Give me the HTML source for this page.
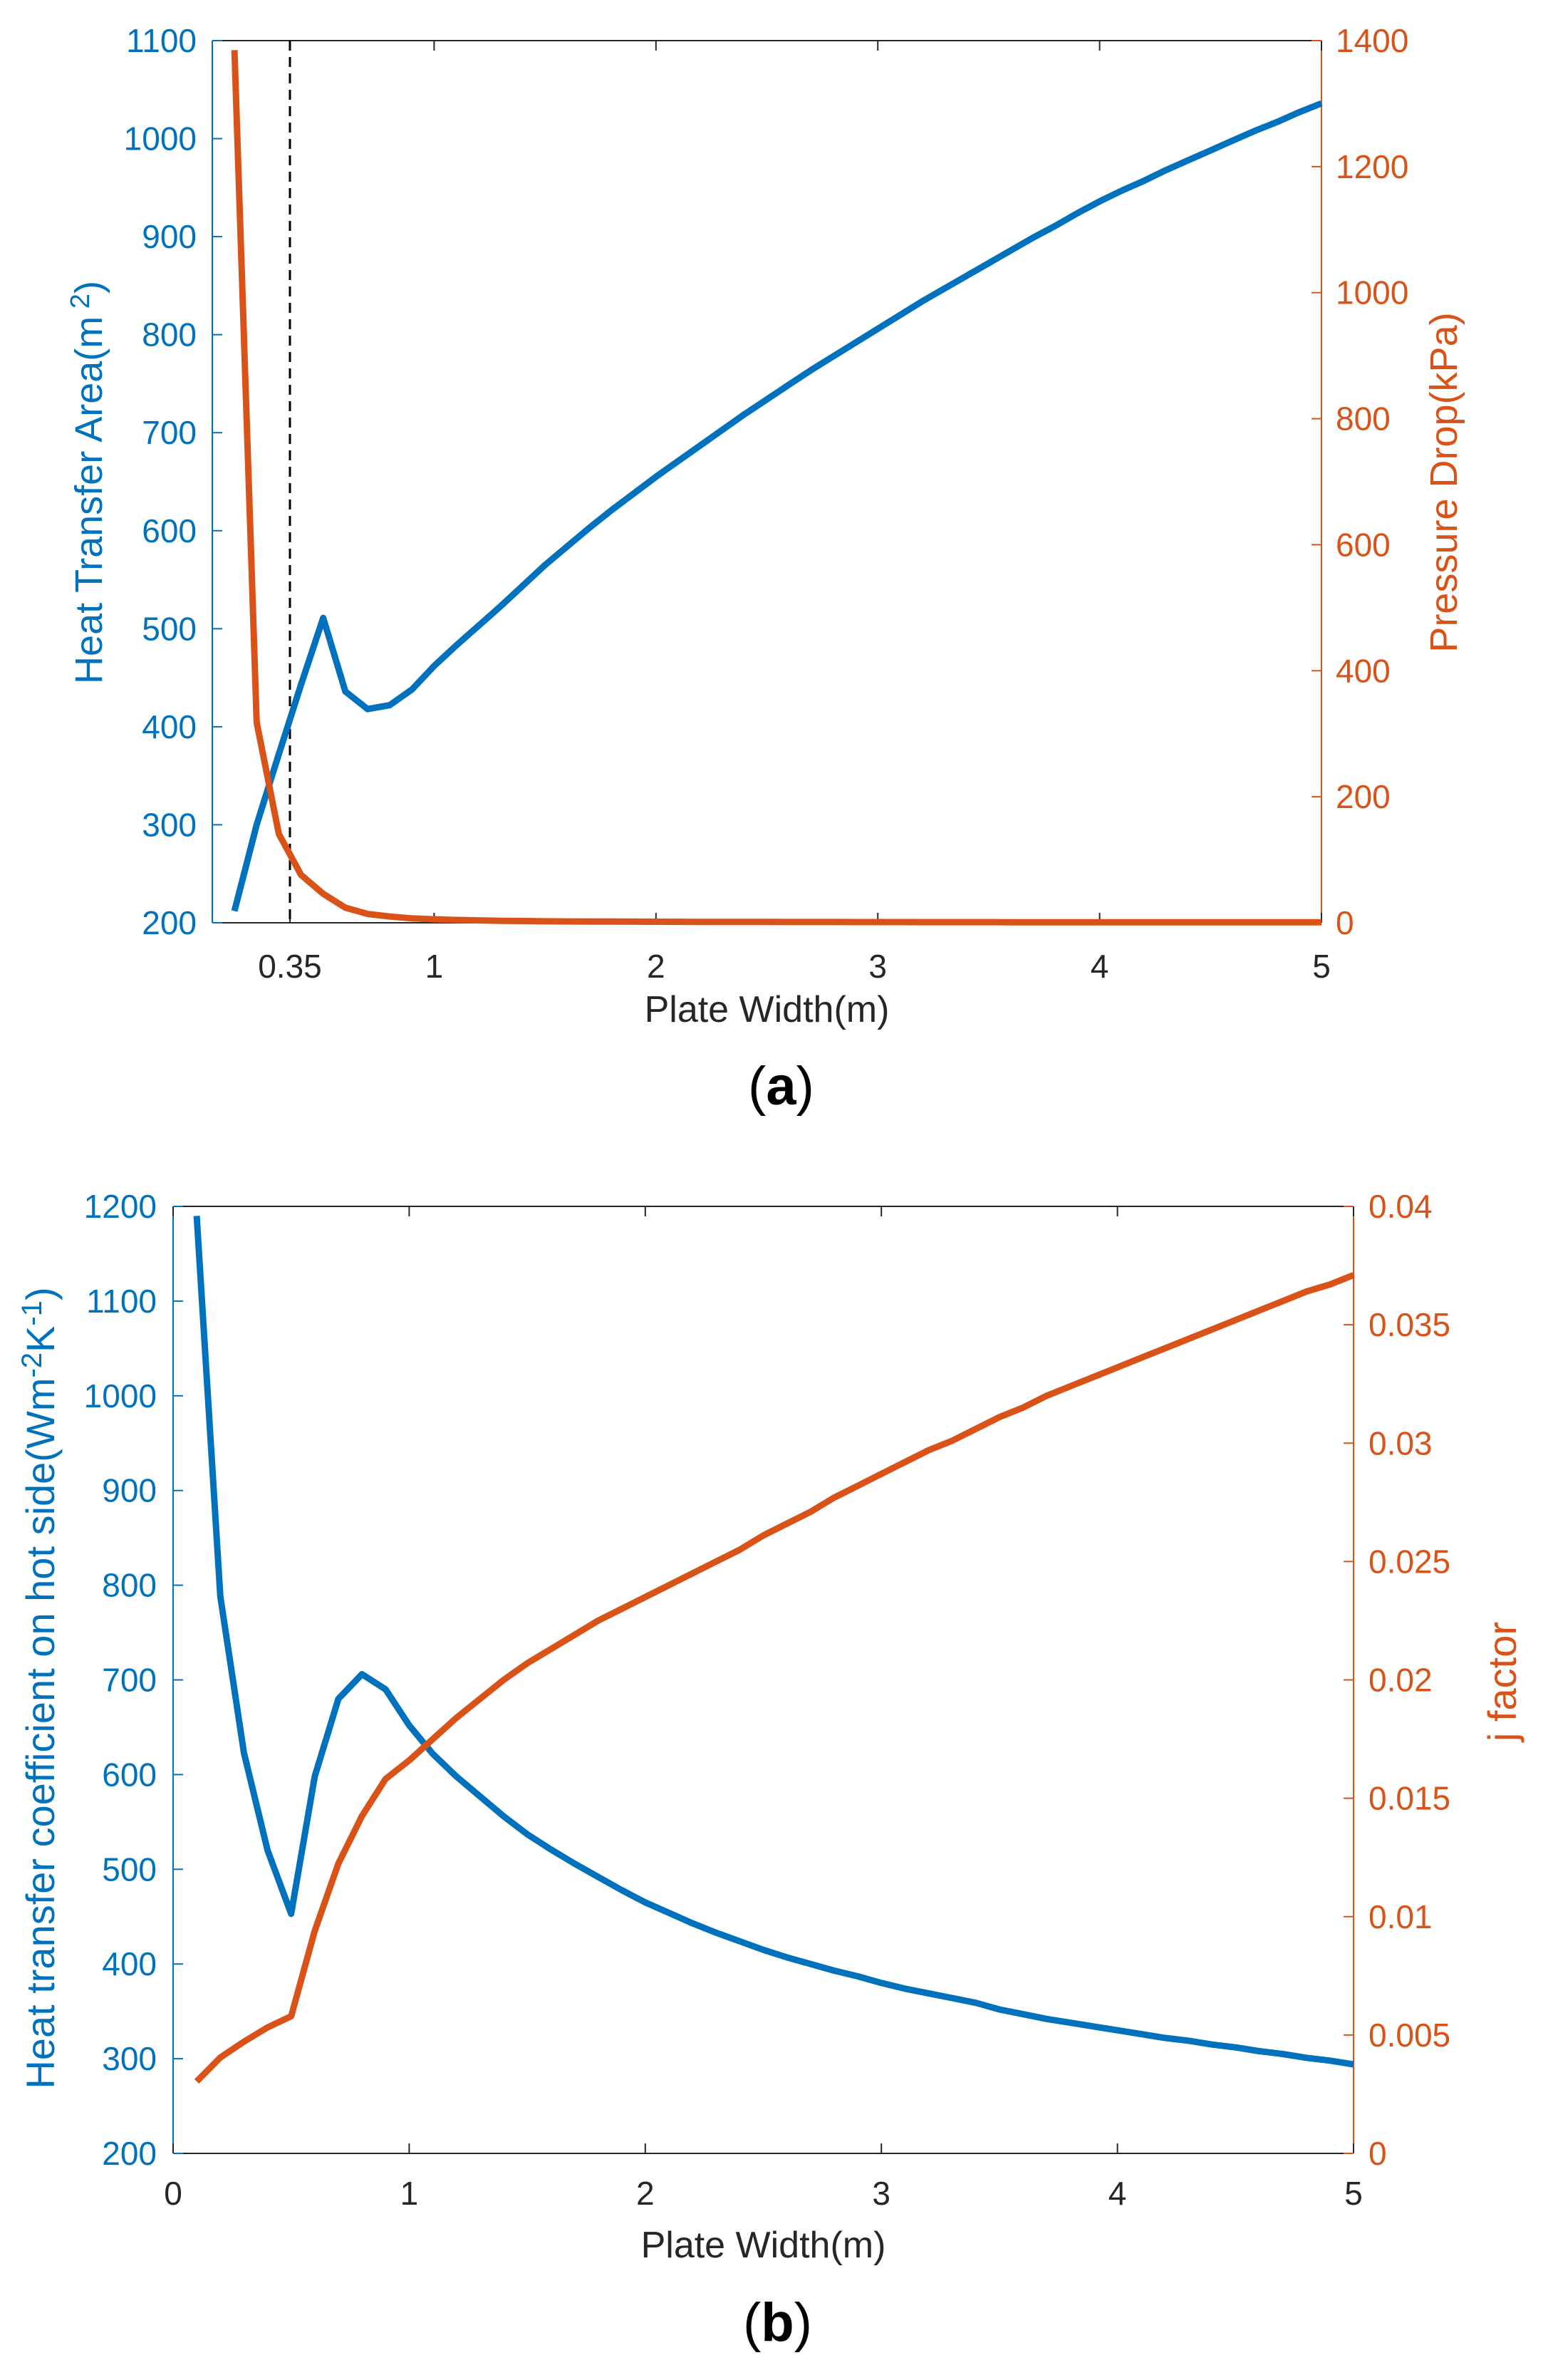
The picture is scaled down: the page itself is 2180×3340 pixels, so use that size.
<!DOCTYPE html>
<html><head><meta charset="utf-8"><style>
html,body{margin:0;padding:0;background:#fff;}
svg{display:block;}
text{font-family:"Liberation Sans",sans-serif;}
</style></head><body>
<svg id="fig" width="2180" height="3340" viewBox="0 0 2180 3340" xmlns="http://www.w3.org/2000/svg">
<rect width="2180" height="3340" fill="#fff"/>
<g id="ga"></g>
<g id="gb"></g>
</svg>
<script>
const xsA=[0.1,0.2,0.3,0.4,0.5,0.6,0.7,0.8,0.9,1.0,1.1,1.2,1.3,1.4,1.5,1.6,1.7,1.8,1.9,2.0,2.1,2.2,2.3,2.4,2.5,2.6,2.7,2.8,2.9,3.0,3.1,3.2,3.3,3.4,3.5,3.6,3.7,3.8,3.9,4.0,4.1,4.2,4.3,4.4,4.5,4.6,4.7,4.8,4.9,5.0];
const areaA=[212,300,372,443,511,436,418,422,438,462,483,503,523,544,565,584,603,621,638,655,671,687,703,719,734,749,764,778,792,806,820,834,847,860,873,886,899,911,924,936,947,957,968,978,988,998,1008,1017,1027,1036];
const pressA=[1385,318,141,76,46,24,14,10,7,5.5,4.5,3.8,3.2,2.8,2.4,2.2,2.0,1.9,1.8,1.7,1.6,1.5,1.45,1.4,1.35,1.3,1.25,1.2,1.15,1.1,1.08,1.05,1.02,1.0,0.98,0.96,0.94,0.92,0.9,0.88,0.86,0.85,0.84,0.83,0.82,0.81,0.8,0.8,0.79,0.78];
const xTicksA=[0.35,1,2,3,4,5];
const xTickLabelsA=["0.35","1","2","3","4","5"];
const yTicksA=[200,300,400,500,600,700,800,900,1000,1100];
const y2TicksA=[0,200,400,600,800,1000,1200,1400];
const dashedX=[0.35];

const xsB=xsA;
const hB=[1190,788,623,520,453,598,680,706,690,652,622,598,577,556,537,521,506,492,478,465,454,443,433,424,415,407,400,393,387,380,374,369,364,359,352,347,342,338,334,330,326,322,319,315,312,308,305,301,298,294];
const jB=[0.00304,0.00405,0.00472,0.00532,0.00579,0.0094,0.01224,0.01425,0.01582,0.0166,0.0175,0.0184,0.0192,0.0200,0.0207,0.0213,0.0219,0.0225,0.0230,0.0235,0.0240,0.0245,0.0250,0.0255,0.0261,0.0266,0.0271,0.0277,0.0282,0.0287,0.0292,0.0297,0.0301,0.0306,0.0311,0.0315,0.0320,0.0324,0.0328,0.0332,0.0336,0.0340,0.0344,0.0348,0.0352,0.0356,0.0360,0.0364,0.0367,0.0371];
const xTicksB=[0,1,2,3,4,5];
const xTickLabelsB=["0","1","2","3","4","5"];
const yTicksB=[200,300,400,500,600,700,800,900,1000,1100,1200];
const y2TicksB=[0,0.005,0.01,0.015,0.02,0.025,0.03,0.035,0.04];
const y2LabelsB=["0","0.005","0.01","0.015","0.02","0.025","0.03","0.035","0.04"];

const NS="http://www.w3.org/2000/svg";
const BLUE="#0072BD",ORANGE="#D95319";
const TF=46;
function mk(parent,tag,attrs){const e=document.createElementNS(NS,tag);for(const k in attrs)e.setAttribute(k,attrs[k]);parent.appendChild(e);return e;}

function drawChart(g,cfg){
  const {L,R,T,B,xmin,xmax,ymin,ymax,y2min,y2max}=cfg;
  const sx=v=>L+(v-xmin)/(xmax-xmin)*(R-L);
  const sy=v=>B-(v-ymin)/(ymax-ymin)*(B-T);
  const sy2=v=>B-(v-y2min)/(y2max-y2min)*(B-T);
  const tl=14;
  let e=mk(g,'line',{x1:L,y1:T,x2:R,y2:T,stroke:'#262626','stroke-width':2});
  
  e=mk(g,'line',{x1:L,y1:B,x2:R,y2:B,stroke:'#262626','stroke-width':2});
  
  e=mk(g,'line',{x1:L,y1:T,x2:L,y2:B,stroke:BLUE,'stroke-width':2});
  
  e=mk(g,'line',{x1:R,y1:T,x2:R,y2:B,stroke:ORANGE,'stroke-width':2});
  
  cfg.xTicks.forEach((v,i)=>{
    const x=sx(v);
    mk(g,'line',{x1:x,y1:B,x2:x,y2:B-tl,stroke:'#262626','stroke-width':2});
    mk(g,'line',{x1:x,y1:T,x2:x,y2:T+tl,stroke:'#262626','stroke-width':2});
    const t=mk(g,'text',{x:x,y:cfg.xLabelY,'text-anchor':'middle','font-size':TF,fill:'#262626'});
    t.textContent=cfg.xLabels[i];
    
    
  });
  cfg.yTicks.forEach(v=>{
    const y=sy(v);
    mk(g,'line',{x1:L,y1:y,x2:L+tl,y2:y,stroke:BLUE,'stroke-width':2});
    const t=mk(g,'text',{x:cfg.yLabelX,y:y+16,'text-anchor':'end','font-size':TF,fill:BLUE});
    t.textContent=String(v);
    
    
  });
  cfg.y2Ticks.forEach((v,i)=>{
    const y=sy2(v);
    mk(g,'line',{x1:R,y1:y,x2:R-tl,y2:y,stroke:ORANGE,'stroke-width':2});
    const t=mk(g,'text',{x:cfg.y2LabelX,y:y+16,'text-anchor':'start','font-size':TF,fill:ORANGE});
    t.textContent=cfg.y2Labels?cfg.y2Labels[i]:String(v);
    
    
  });
  if(cfg.dashed){cfg.dashed.forEach(v=>{
    const l=mk(g,'line',{x1:sx(v),y1:T,x2:sx(v),y2:B,stroke:'#000','stroke-width':3,'stroke-dasharray':'14,9'});
    
    
  });}
  let d1=cfg.xs.map((x,i)=>(i?'L':'M')+sx(x).toFixed(1)+','+sy(cfg.s1[i]).toFixed(1)).join('');
  const p1=mk(g,'path',{d:d1,fill:'none',stroke:BLUE,'stroke-width':9,'stroke-linejoin':'round'});
  
  
  let d2=cfg.xs.map((x,i)=>(i?'L':'M')+sx(x).toFixed(1)+','+sy2(cfg.s2[i]).toFixed(1)).join('');
  const p2=mk(g,'path',{d:d2,fill:'none',stroke:ORANGE,'stroke-width':9,'stroke-linejoin':'round'});
  
  
  let t=mk(g,'text',{x:(L+R)/2,y:cfg.xTitleY,'text-anchor':'middle','font-size':52,fill:'#262626'});
  t.textContent='Plate Width(m)';
  
  
  t=mk(g,'text',{x:0,y:0,'text-anchor':'middle','font-size':cfg.yTitleSize,fill:BLUE,transform:`translate(${cfg.yTitleX},${cfg.yTitleY}) rotate(-90)`});
  t.innerHTML=cfg.yTitle;
  
  
  t=mk(g,'text',{x:0,y:0,'text-anchor':'middle','font-size':cfg.y2TitleSize,fill:ORANGE,transform:`translate(${cfg.y2TitleX},${cfg.y2TitleY}) rotate(-90)`});
  t.textContent=cfg.y2Title;
  
  
  t=mk(g,'text',{x:(L+R)/2+20,y:cfg.capY,'text-anchor':'middle','font-size':76,fill:'#000','font-family':'Liberation Serif, serif'});
  t.innerHTML='(<tspan font-weight="bold">'+cfg.cap+'</tspan>)';
  
  
}

drawChart(document.getElementById('ga'),{L:298,R:1855,T:57,B:1295,xmin:0,xmax:5,ymin:200,ymax:1100,y2min:0,y2max:1400,
  xTicks:xTicksA,xLabels:xTickLabelsA,yTicks:yTicksA,y2Ticks:y2TicksA,dashed:dashedX,
  xs:xsA,s1:areaA,s2:pressA,s1Name:'heat-transfer-area-line',s2Name:'pressure-drop-line',
  xLabelY:1372,yLabelX:276,y2LabelX:1875,xTitleY:1434,
  yTitle:'Heat Transfer Area(m<tspan dy="-18" font-size="38"> 2</tspan><tspan dy="18">)</tspan>',yTitleX:143,yTitleY:677,yTitleSize:54,
  y2Title:'Pressure Drop(kPa)',y2TitleX:2045,y2TitleY:677,y2TitleSize:54,cap:'a',capY:1550});

drawChart(document.getElementById('gb'),{L:243,R:1900,T:1693,B:3022,xmin:0,xmax:5,ymin:200,ymax:1200,y2min:0,y2max:0.04,
  xTicks:xTicksB,xLabels:xTickLabelsB,yTicks:yTicksB,y2Ticks:y2TicksB,y2Labels:y2LabelsB,
  xs:xsB,s1:hB,s2:jB,s1Name:'heat-transfer-coefficient-line',s2Name:'j-factor-line',
  xLabelY:3094,yLabelX:220,y2LabelX:1921,xTitleY:3168,
  yTitle:'Heat transfer coefficient on hot side(Wm<tspan dy="-18" font-size="40">-2</tspan><tspan dy="18">K</tspan><tspan dy="-18" font-size="40">-1</tspan><tspan dy="18">)</tspan>',yTitleX:76,yTitleY:2369,yTitleSize:56,
  y2Title:'j factor',y2TitleX:2128,y2TitleY:2360,y2TitleSize:56,cap:'b',capY:3285});
</script>
</body></html>
